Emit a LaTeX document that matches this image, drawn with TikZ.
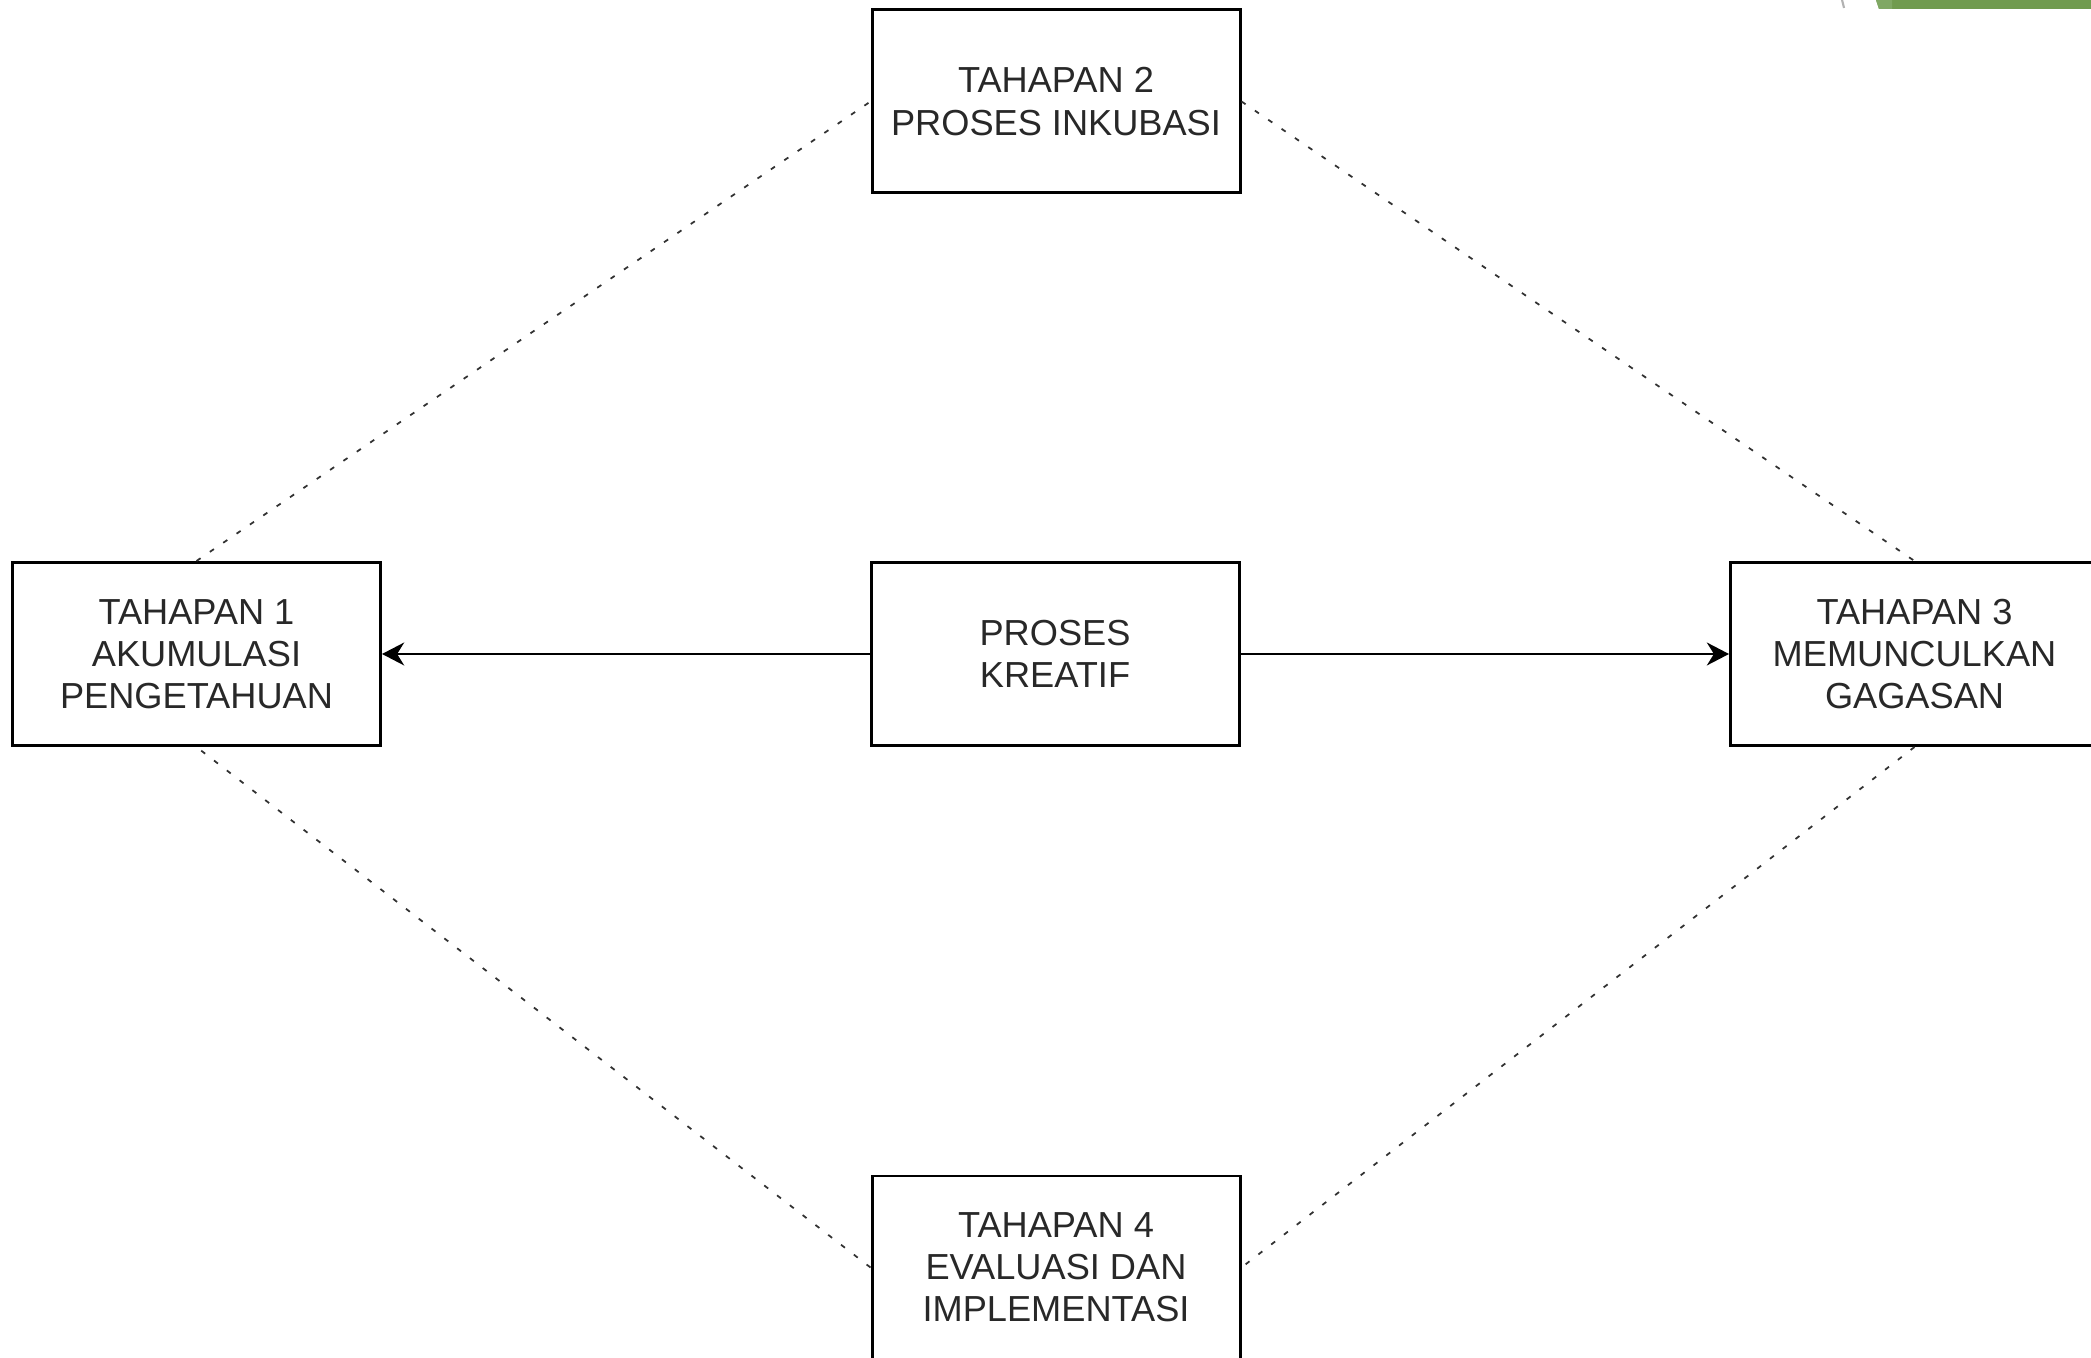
\documentclass[tikz,border=0pt]{standalone}
\usepackage{fontspec}
\setmainfont{Liberation Sans}
\usetikzlibrary{arrows.meta}

\begin{document}
\begin{tikzpicture}
\definecolor{boxcolor}{RGB}{0,0,0}
\definecolor{textcolor}{RGB}{40,40,40}
\definecolor{dashcolor}{RGB}{50,50,50}
\definecolor{greencolor}{RGB}{112,155,78}
\definecolor{lightgreen}{RGB}{128,168,100}
\tikzset{
  tahap/.style={draw=boxcolor,line width=0.85pt,fill=white,inner sep=0pt,
    minimum width=3.68cm,minimum height=1.83cm,align=center,
    text=textcolor,font=\fontsize{10.3}{12}\selectfont},
  link/.style={dashcolor,line width=0.5pt,dash pattern=on 1.4pt off 3.2pt},
  panah/.style={boxcolor,line width=0.7pt,-{Stealth[length=6.3pt,width=6.5pt,inset=2pt]}}
}
\clip (0,0) rectangle (20.91,13.57);
\fill[white] (0,0) rectangle (20.91,13.57);
% slide decoration, top right
\fill[greencolor] (18.76,13.57) -- (20.91,13.57) -- (20.91,13.48) -- (18.79,13.48) -- cycle;
\fill[lightgreen] (18.76,13.57) -- (18.92,13.57) -- (18.92,13.48) -- (18.79,13.48) -- cycle;
\draw[black!30,line width=0.6pt] (18.42,13.57) -- (18.44,13.49);
% stages
\node[tahap] (tahap2) at (10.56,12.555) {TAHAPAN 2\\PROSES INKUBASI};
\node[tahap] (tahap1) at (1.965,7.03) {TAHAPAN 1\\AKUMULASI\\PENGETAHUAN};
\node[tahap] (kreatif) at (10.55,7.03) {PROSES\\KREATIF};
\node[tahap] (tahap3) at (19.145,7.03) {TAHAPAN 3\\MEMUNCULKAN\\GAGASAN};
\node[tahap] (tahap4) at (10.56,0.895) {TAHAPAN 4\\EVALUASI DAN\\IMPLEMENTASI};
% dashed cycle
\draw[link] (tahap1.north) -- (tahap2.west);
\draw[link] (tahap2.east) -- (tahap3.north);
\draw[link] (tahap3.south) -- (tahap4.east);
\draw[link] (tahap4.west) -- (tahap1.south);
% arrows from the centre
\draw[panah] (kreatif.west) -- (tahap1.east);
\draw[panah] (kreatif.east) -- (tahap3.west);
\end{tikzpicture}
\end{document}
